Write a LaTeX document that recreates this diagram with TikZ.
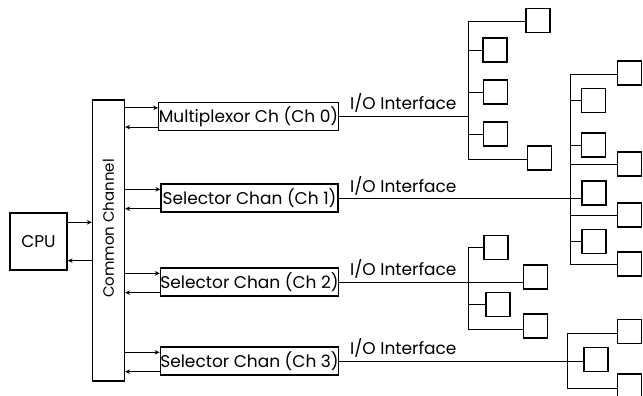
\documentclass[tikz,border=0pt]{standalone}
\usepackage{fontspec}
\setmainfont{Poppins}
\usetikzlibrary{arrows.meta, calc, positioning}
\tikzset{
  blk/.style   = {draw, line width=1.3pt, inner sep=0pt, align=center},
  chbox/.style = {blk, minimum width=177pt, minimum height=28pt},
  dev/.style   = {draw, line width=1.6pt, minimum size=24pt, inner sep=0pt},
  wire/.style  = {line width=0.9pt},
  flow/.style  = {-{Stealth[length=5pt, width=4.5pt]}, line width=0.9pt},
  iolbl/.style = {inner sep=0pt, anchor=base west},
}

\begin{document}
\begin{tikzpicture}[x=1pt, y=-1pt, font=\fontsize{17}{20}\selectfont]

  \useasboundingbox (0,0) rectangle (643,396);

  %% ---------------- cpu and the common channel ----------------
  \node[blk, minimum width=57pt, minimum height=57pt] (cpu) at (38.5,241.5) {CPU};
  \node[blk, minimum width=32pt, minimum height=281pt] (chan) at (108.5,240.5) {};
  \node[rotate=90, inner sep=0pt, font=\fontsize{15}{18}\selectfont] (chanlbl)
       at ($(chan.center)+(0,-12)$) {Common Channel};

  \draw[flow] ($(cpu.north east)+(0,10)$) -- ($(chan.west |- cpu.north)+(0,10)$);
  \draw[flow] ($(chan.west |- cpu.south)+(0,-10)$) -- ($(cpu.south east)+(0,-10)$);

  %% ---------------- the four channels ----------------
  \node[chbox] (ch0) at (248.5,116.5) {Multiplexor Ch (Ch 0)};
  \node[chbox] (ch1) at (249.5,198)   {Selector Chan (Ch 1)};
  \node[chbox] (ch2) at (249.5,282)   {Selector Chan (Ch 2)};
  \node[chbox] (ch3) at (249.5,361)   {Selector Chan (Ch 3)};

  % out to the channel on top, back to the common channel below
  \foreach \c in {ch0, ch1, ch2, ch3} {
    \draw[flow] ($(chan.east |- \c.north)+(0,6)$) -- ($(\c.north west)+(0,6)$);
    \draw[flow] ($(\c.south west)+(0,-4)$) -- ($(chan.east |- \c.south)+(0,-4)$);
  }

  \node[iolbl] (io0) at (350,110) {I/O Interface};
  \node[iolbl] (io1) at (350,192) {I/O Interface};
  \node[iolbl] (io2) at (350,275) {I/O Interface};
  \node[iolbl] (io3) at (350,354) {I/O Interface};

  %% ---------------- devices on ch 0 ----------------
  \node[dev] (d0a) at (538,20.5) {};
  \node[dev] (d0b) at (495,50)   {};
  \node[dev] (d0c) at (495.5,92) {};
  \node[dev] (d0d) at (495.5,134) {};
  \node[dev] (d0e) at (539.5,158) {};
  \coordinate (t0) at (468,21);
  \coordinate (u0) at (468,159);
  \draw[wire] (t0) -- (u0);
  \draw[wire] (ch0.east) -- (ch0.east -| t0);
  \draw[wire] (t0) -- (t0 -| d0a.west);
  \draw[wire] (u0) -- (u0 -| d0e.west);
  \foreach \d in {d0b, d0c, d0d}
    \draw[wire] (\d.west) -- (\d.west -| t0);

  %% ---------------- devices on ch 1 ----------------
  \node[dev] (d1a) at (629.5,73)    {};
  \node[dev] (d1b) at (593.5,100.5) {};
  \node[dev] (d1c) at (593.5,145)   {};
  \node[dev] (d1d) at (629.5,164)   {};
  \node[dev] (d1e) at (594,193)     {};
  \node[dev] (d1f) at (629.5,215)   {};
  \node[dev] (d1g) at (594,241.5)   {};
  \node[dev] (d1h) at (629.5,264)   {};
  \coordinate (t1) at (570,74);
  \coordinate (u1) at (570,264);
  \draw[wire] (t1) -- (u1);
  \draw[wire] (ch1.east) -- (ch1.east -| d1e.west);
  \draw[wire] (t1) -- (t1 -| d1a.west);
  \draw[wire] (u1) -- (u1 -| d1h.west);
  \draw[wire] (t1 |- d1d.west) -- (d1d.west);
  \draw[wire] (t1 |- d1f.west) -- (d1f.west);
  \foreach \d in {d1b, d1c, d1g}
    \draw[wire] (\d.west) -- (\d.west -| t1);

  %% ---------------- devices on ch 2 ----------------
  \node[dev] (d2a) at (496,247.5) {};
  \node[dev] (d2b) at (535.5,277) {};
  \node[dev] (d2c) at (498,304.5) {};
  \node[dev] (d2d) at (535.5,326) {};
  \coordinate (t2) at (468,247);
  \coordinate (u2) at (468,329);
  \draw[wire] (t2) -- (u2);
  \draw[wire] (ch2.east) -- (ch2.east -| d2b.west);
  \draw[wire] (t2) -- (t2 -| d2a.west);
  \draw[wire] (u2) -- (u2 -| d2d.west);
  \draw[wire] (d2c.west) -- (d2c.west -| t2);

  %% ---------------- devices on ch 3 ----------------
  \node[dev] (d3a) at (629.5,331.5) {};
  \node[dev] (d3b) at (596,359.5)   {};
  \node[dev] (d3c) at (629.5,386)   {};
  \coordinate (t3) at (567,333);
  \coordinate (u3) at (567,388);
  \draw[wire] (t3) -- (u3);
  \draw[wire] (ch3.east) -- (ch3.east -| d3b.west);
  \draw[wire] (t3) -- (t3 -| d3a.west);
  \draw[wire] (u3) -- (u3 -| d3c.west);

\end{tikzpicture}
\end{document}
